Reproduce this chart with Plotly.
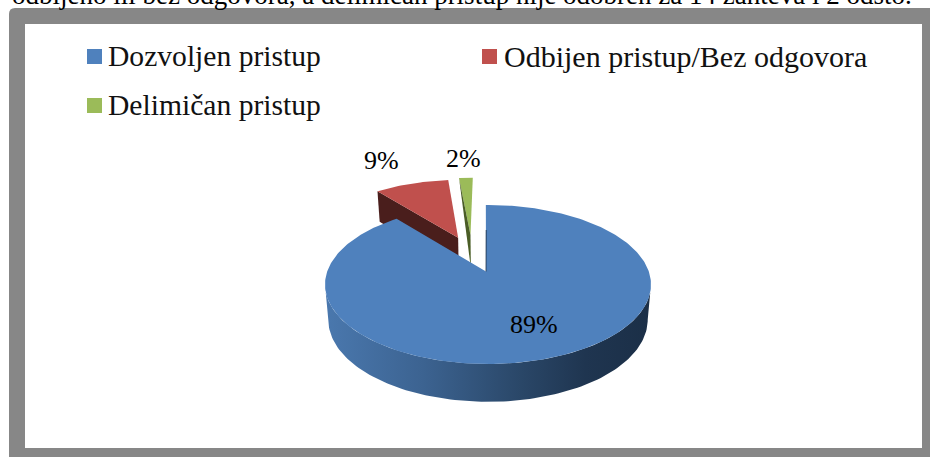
import numpy as np
import plotly.graph_objects as go

categories = ["Dozvoljen pristup", "Odbijen pristup/Bez odgovora", "Delimičan pristup"]
shares = [89.2, 9.1, 1.7]
percent_labels = ["89%", "9%", "2%"]
top_colors = ["#4f81bd", "#c0504d", "#9bbb59"]
dark_colors = ["#1c3048", "#4a1e1c", "#4a5d26"]
cut_line = "odbijeno ili bez odgovora, a delimičan pristup nije odobren za 14 zahteva i 2 odsto."

FONT = "Liberation Serif"
CX, CY = 488.0, 271.5
BX, AY, K = 160.8, 77.37, 0.1635
ROT = -0.9
OFFSETS = [(-0.0124, 0.0), (-0.2, 0.47), (-0.118, 0.512)]


def project(u, v):
    d = 1 + K * v
    return CX + BX * u / d, CY - AY * v / d


def lower(u, v):
    x, y = project(u, v)
    return CX + (x - CX) * 0.98, y + 34.5 - 3.3 * np.asarray(v)


def fill_trace(xs, ys, color, **kw):
    return go.Scatter(x=xs, y=ys, mode="lines", fill="toself", fillcolor=color,
                      line=dict(width=0, color=color), hoverinfo="skip",
                      showlegend=False, **kw)


edges = np.concatenate([[0], np.cumsum(shares)]) * 3.6
fig = go.Figure()

# exploded red slice: inner face, then top
du, dv = OFFSETS[1]
a0, a1 = np.radians(edges[1]), np.radians(edges[2])
c_u, c_v = du + np.sin(a0), dv + np.cos(a0)
p1 = project(c_u, c_v); p2 = project(du, dv); p3 = lower(du, dv); p4 = lower(c_u, c_v)
fig.add_trace(fill_trace([p1[0], p2[0], p3[0], p4[0]], [p1[1], p2[1], p3[1], p4[1]], dark_colors[1]))
t = np.linspace(a0, a1, 30)
rx, ry = project(du + np.sin(t), dv + np.cos(t))
ax, ay = project(du, dv)
fig.add_trace(fill_trace(np.r_[ax, rx], np.r_[ay, ry], top_colors[1]))

# exploded green slice
du, dv = OFFSETS[2]
a0, a1 = np.radians(edges[2]), np.radians(edges[3])
c = project(du + np.sin(a0), dv + np.cos(a0))
ax, ay = project(du, dv)
bx, by = lower(du, dv)
t = np.linspace(a0, a1, 12)
rx, ry = project(du + np.sin(t), dv + np.cos(t))
fig.add_trace(fill_trace(np.r_[ax, rx], np.r_[ay, ry], top_colors[2]))
fig.add_trace(fill_trace([c[0], ax, bx], [c[1], ay, by], dark_colors[2]))

# blue side wall with a horizontal gradient
t = np.radians(np.linspace(99.4, 260.6, 120))
tx, ty = project(np.sin(t), np.cos(t))
lx, ly = lower(np.sin(t), np.cos(t))
fig.add_trace(go.Scatter(
    x=np.r_[tx, lx[::-1]], y=np.r_[ty, ly[::-1]], mode="lines", fill="toself",
    line=dict(width=0), hoverinfo="skip", showlegend=False,
    fillgradient=dict(type="horizontal", colorscale=[
        [0, "#4a78ae"], [0.3, "#3c6391"], [0.6, "#2a4768"], [0.8, "#1f3550"], [1, "#1b2f47"]]),
))

# blue top
du, dv = OFFSETS[0]
t = np.radians(np.linspace(edges[0] + ROT, edges[1] + ROT, 300))
rx, ry = project(np.sin(t), np.cos(t))
ax, ay = project(du, dv)
fig.add_trace(fill_trace(np.r_[ax, rx], np.r_[ay, ry], top_colors[0]))
fig.add_trace(go.Scatter(x=[rx[0] + 0.4, ax], y=[ry[0] + 25, ay], mode="lines",
                         line=dict(width=0.8, color=dark_colors[0]), hoverinfo="skip", showlegend=False))

# legend swatches
fig.add_trace(go.Scatter(x=[94.5, 489.5, 94.5], y=[56.5, 56.5, 105.5], mode="markers",
                         marker=dict(symbol="square", size=15, color=top_colors, line=dict(width=0)),
                         hoverinfo="skip", showlegend=False))

annotations = []
for name, x, y, s in zip(categories, [106, 502, 106], [56, 56, 105], [29.6, 30, 29.6]):
    annotations.append(dict(x=x, y=y, text=name, xanchor="left", yanchor="middle", showarrow=False,
                            font=dict(family=FONT, size=s, color="#111111"), xref="x", yref="y"))
for lab, x, y in zip(percent_labels, [534, 381, 463], [324, 160, 158]):
    annotations.append(dict(x=x, y=y, text=lab, xanchor="center", yanchor="middle", showarrow=False,
                            font=dict(family=FONT, size=26, color="#000000"), xref="x", yref="y"))
annotations.append(dict(x=10, y=1, text=cut_line, xanchor="left", yanchor="middle", yshift=5, showarrow=False,
                        font=dict(family=FONT, size=27, color="#000000"), xref="x", yref="paper"))

frame = "M 9 14 Q 9 8 15 8 L 930 8 L 930 457 L 9 457 Z"
shapes = [
    dict(type="path", path=frame, fillcolor="#878787", line=dict(width=0), layer="below", xref="x", yref="y"),
    dict(type="rect", x0=25, x1=922, y0=24, y1=448, fillcolor="#ffffff", line=dict(width=0), layer="below", xref="x", yref="y"),
]

fig.update_layout(
    width=930, height=457, autosize=False,
    margin=dict(l=0, r=0, t=0, b=0), paper_bgcolor="#ffffff", plot_bgcolor="#ffffff",
    xaxis=dict(range=[0, 930], visible=False, fixedrange=True),
    yaxis=dict(range=[457, 0], visible=False, fixedrange=True),
    shapes=shapes, annotations=annotations, showlegend=False,
)
fig.write_html("out.html", config={"displayModeBar": False},
               post_script="document.body.style.margin='0';document.body.style.overflow='hidden';")
